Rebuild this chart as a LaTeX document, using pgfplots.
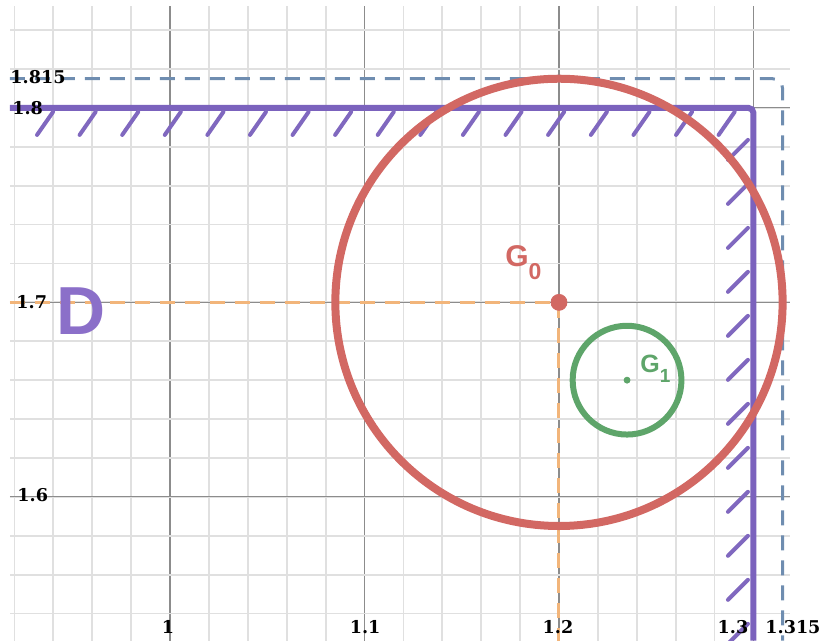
\documentclass[border=0pt]{standalone}
\usepackage{pgfplots}
\pgfplotsset{compat=1.18}
\usepackage{fontspec}
\setmainfont{DejaVu Serif}
\newfontfamily\tickf{DejaVu Serif}
\newfontfamily\sansf{Liberation Sans}
\definecolor{purp}{HTML}{7B62BD}
\definecolor{hatchc}{HTML}{8068BF}
\definecolor{dcol}{HTML}{8B6FC9}
\definecolor{redc}{HTML}{D26863}
\definecolor{greenc}{HTML}{5EA56A}
\definecolor{bluec}{HTML}{6F8DB0}
\definecolor{orangec}{HTML}{F2B57A}
\newcommand{\tl}[1]{{\tickf\bfseries\fontsize{8.8}{9}\selectfont #1}}
\begin{document}
\begin{tikzpicture}
\begin{axis}[
  x=972.5pt, y=972.5pt,
  xmin=0.9177, xmax=1.3188, ymin=1.526, ymax=1.8524,
  xtick={1,1.1,1.2,1.3}, ytick={1.6,1.7,1.8},
  minor xtick={0.92,0.94,...,1.32}, minor ytick={1.54,1.56,...,1.84},
  grid=both,
  major grid style={black!45, line width=0.6pt},
  minor grid style={black!12, line width=0.9pt},
  xticklabels={}, yticklabels={},
  axis line style={draw=none},
  major tick length=0pt, minor tick length=0pt,
  clip=false,
]
\coordinate (bb1) at (rel axis cs:0,0);
\coordinate (bb2) at (rel axis cs:1,1);
% orange dashed
\addplot[orangec, line width=1.5pt, dash pattern=on 7.5pt off 5pt]
  coordinates {(0.9177,1.7) (1.2,1.7) (1.2,1.526)};
% blue dashed
\addplot[bluec, line width=1.5pt, dash pattern=on 7.5pt off 5pt, rounded corners=5pt]
  coordinates {(0.9177,1.815) (1.315,1.815) (1.315,1.526)};
% purple boundary
\addplot[purp, line width=3pt, rounded corners=2.5pt]
  coordinates {(0.9177,1.8) (1.3,1.8) (1.3,1.526)};
% hatches along y=1.8
\addplot[hatchc, line width=2pt, line cap=round, quiver={u=0.00823, v=0.01183}]
  table[row sep=\\] {
x y\\
0.9316 1.7861\\
0.9535 1.7861\\
0.9754 1.7861\\
0.9973 1.7861\\
1.0192 1.7861\\
1.0411 1.7861\\
1.0630 1.7861\\
1.0849 1.7861\\
1.1068 1.7861\\
1.1287 1.7861\\
1.1506 1.7861\\
1.1725 1.7861\\
1.1944 1.7861\\
1.2164 1.7861\\
1.2383 1.7861\\
1.2602 1.7861\\
1.2821 1.7861\\
};
% hatches along x=1.3
\addplot[hatchc, line width=2pt, line cap=round, quiver={u=0.01028, v=0.01028}]
  table[row sep=\\] {
x y\\
1.28689 1.77326\\
1.28689 1.75064\\
1.28689 1.72802\\
1.28689 1.70540\\
1.28689 1.68278\\
1.28689 1.66015\\
1.28689 1.63753\\
1.28689 1.61491\\
1.28689 1.59229\\
1.28689 1.56967\\
1.28689 1.54704\\
1.28689 1.52442\\
};
% red circle G0
\addplot[redc, only marks, mark=o, mark size=111.84pt, mark options={line width=4pt}]
  coordinates {(1.2,1.7)};
% green circle G1
\addplot[greenc, only marks, mark=o, mark size=27.2pt, mark options={line width=3pt}]
  coordinates {(1.235,1.66)};
% centers
\addplot[redc, only marks, mark=*, mark size=4pt, mark options={solid, draw=redc, fill=redc, line width=0.4pt}]
  coordinates {(1.2,1.7)};
\addplot[greenc, only marks, mark=*, mark size=1.5pt, mark options={solid, draw=greenc, fill=greenc, line width=0.4pt}]
  coordinates {(1.235,1.66)};
% labels
\node[anchor=base west, inner sep=0pt, text=redc] at (axis cs:1.1722,1.7183)
  {\sansf\bfseries\fontsize{15}{16}\selectfont G\raisebox{-6.5pt}{\fontsize{11.5}{12}\selectfont 0}};
\node[anchor=base west, inner sep=0pt, text=greenc] at (axis cs:1.2417,1.6638)
  {\sansf\bfseries\fontsize{12.5}{13}\selectfont G\raisebox{-5pt}{\fontsize{9.5}{10}\selectfont 1}};
\node[anchor=center, inner sep=0pt, text=dcol] at (axis cs:0.9542,1.6956)
  {\sansf\bfseries\fontsize{34}{36}\selectfont D};
% tick labels
\node[anchor=west, inner sep=0pt] at (axis cs:0.9177,1.8158) {\tl{1.815}};
\node[anchor=west, inner sep=0pt] at (axis cs:0.9187,1.7997) {\tl{1.8}};
\node[anchor=west, inner sep=0pt] at (axis cs:0.9208,1.7) {\tl{1.7}};
\node[anchor=west, inner sep=0pt] at (axis cs:0.9213,1.6010) {\tl{1.6}};
\node[anchor=center, inner sep=0pt] at (axis cs:0.9990,1.5332) {\tl{1}};
\node[anchor=center, inner sep=0pt] at (axis cs:1.1003,1.5332) {\tl{1.1}};
\node[anchor=center, inner sep=0pt] at (axis cs:1.1995,1.5332) {\tl{1.2}};
\node[anchor=center, inner sep=0pt] at (axis cs:1.2895,1.5332) {\tl{1.3}};
\node[anchor=center, inner sep=0pt] at (axis cs:1.3203,1.5332) {\tl{1.315}};
\end{axis}
\pgfresetboundingbox
\path[use as bounding box] ([xshift=-5pt]bb1) rectangle ([xshift=17.5pt,yshift=3pt]bb2);
\end{tikzpicture}
\end{document}
